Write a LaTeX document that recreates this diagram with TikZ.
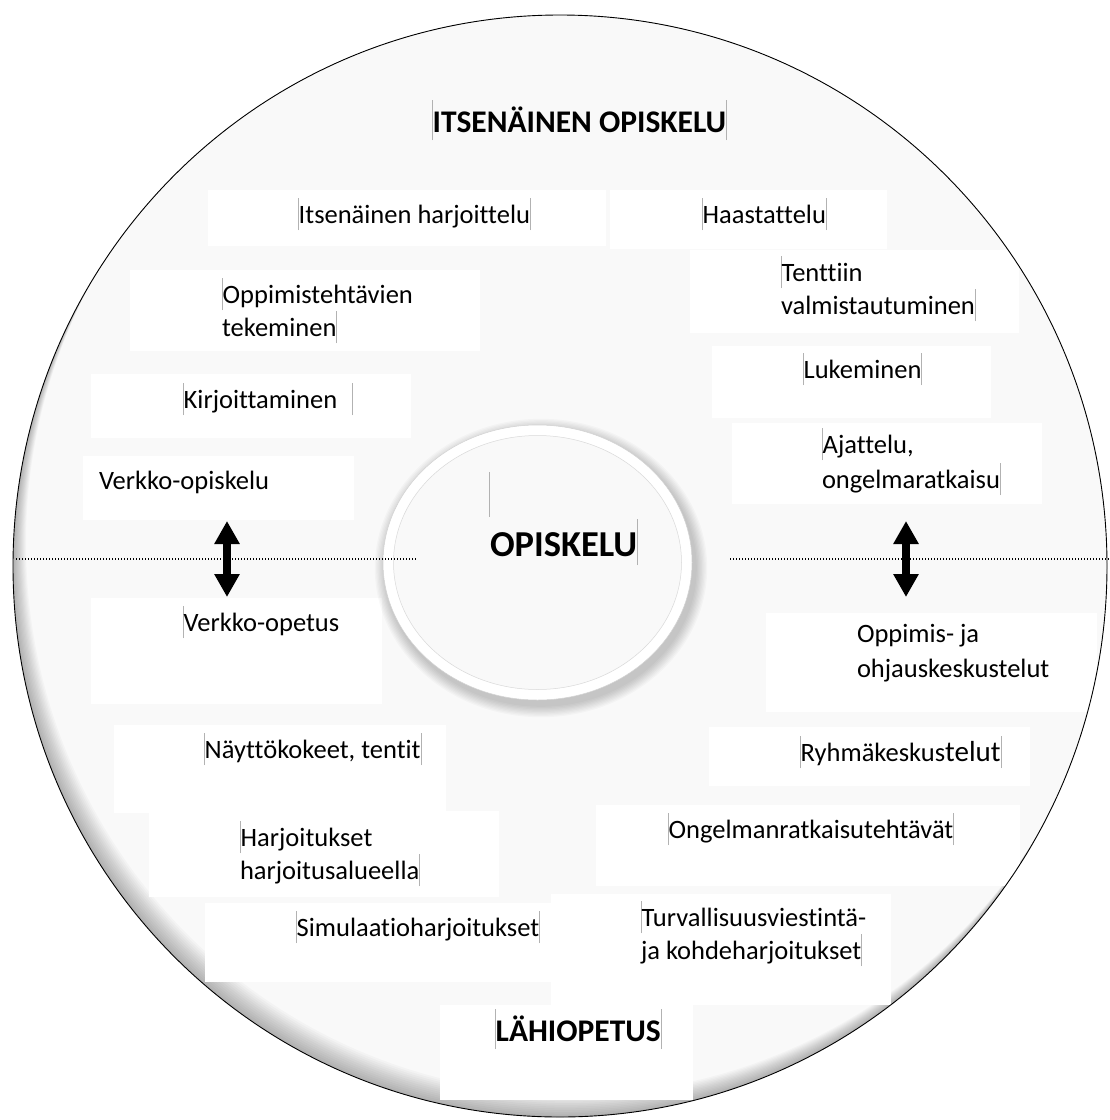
\documentclass[tikz,border=0pt]{standalone}
\usepackage{fontspec}
\setmainfont{Carlito}[Ligatures={NoCommon}]
\usetikzlibrary{arrows.meta}
\definecolor{bgin}{gray}{0.976}
\definecolor{mkgray}{gray}{0.70}
\newcommand\mkr{\textcolor{mkgray}{\rule[-7pt]{0.7pt}{32pt}}}
\newcommand\svv{\rule[-7pt]{0pt}{32pt}}
\newcommand\mkbb{\textcolor{mkgray}{\rule[-8pt]{0.7pt}{40pt}}}
\newcommand\mkcc{\textcolor{mkgray}{\rule[-9pt]{0.7pt}{46pt}}}
\pgfdeclareradialshading{discshade}{\pgfpoint{0bp}{0bp}}{color(0bp)=(bgin); color(47bp)=(bgin); color(49.5bp)=(gray!6); color(50bp)=(gray!12)}
\pgfdeclareradialshading{innershade}{\pgfpoint{0bp}{0bp}}{color(0bp)=(gray!5); color(45bp)=(gray!5); color(48.5bp)=(gray!12); color(50bp)=(gray!24)}
\begin{document}
\begin{tikzpicture}[x=1pt,y=-1pt,
  txt/.style={inner sep=0pt, outer sep=0pt, font=\fontsize{26.5}{33}\selectfont, text=black},
  txtm/.style={txt, align=left},
  hd/.style={inner sep=0pt, outer sep=0pt, font=\bfseries\fontsize{31.5}{38}\selectfont, text=black},
  wbox/.style={fill=white, draw=none},
  dotline/.style={line width=1.1pt, dash pattern=on 1.1pt off 1.9pt},
  dbl/.style={line width=8.5pt, {Triangle[length=23pt,width=24pt]}-{Triangle[length=23pt,width=24pt]}}]
\useasboundingbox (0,0) rectangle (1110,1120);
\fill[white] (0,0) rectangle (1110,1120);
% outer disc
\path[shading=discshade] (560,566) ellipse [x radius=547, y radius=551];
\begin{scope}
\clip (560,566) ellipse [x radius=547, y radius=551];
% rim shadow, heavier at lower left
\foreach \s in {2,4,...,26}
  \fill[black, opacity=0.022, even odd rule] (560,566) ellipse [x radius=547, y radius=551]
     (560+0.5*\s,566-0.866*\s) ellipse [x radius=547, y radius=551];
\fill[wbox] (208,190) rectangle (606,246);
\fill[wbox] (610,190) rectangle (887,249);
\fill[wbox] (130,270) rectangle (480,351);
\fill[wbox] (690,250) rectangle (1019,333);
\fill[wbox] (91,374) rectangle (411,438);
\fill[wbox] (712,346) rectangle (991,418);
\fill[wbox] (83,456) rectangle (354,520);
\fill[wbox] (732,423) rectangle (1042,504);
\fill[wbox] (91,598) rectangle (382,704);
\fill[wbox] (766,613) rectangle (1097,712);
\fill[wbox] (114,725) rectangle (446,813);
\fill[wbox] (709,727) rectangle (1030,786);
\fill[wbox] (149,811) rectangle (499,897);
\fill[wbox] (596,805) rectangle (1020,886);
\fill[wbox] (205,903) rectangle (551,982);
\fill[wbox] (551,894) rectangle (891,1005);
\fill[wbox] (440,1005) rectangle (693,1100);
\end{scope}
\draw[line width=0.9pt] (560,566) ellipse [x radius=547, y radius=551];
% centre ellipse with shadow
\foreach \i in {1,...,9}
  \fill[black, opacity=0.022] (541,568) ellipse [x radius=154.5+\i*1.3, y radius=137.5+\i*1.3];
\fill[white] (537.5,562.5) ellipse [x radius=154.5, y radius=137.5];
\draw[gray!35, line width=0.5pt] (537.5,562.5) ellipse [x radius=154.5, y radius=137.5];
\path[shading=innershade] (537.5,562.5) ellipse [x radius=144, y radius=127];
\draw[gray!30, line width=0.5pt] (537.5,562.5) ellipse [x radius=144, y radius=127];
% dotted divider
\coordinate (dl1) at (16,559);
\coordinate (dl2) at (416,559);
\coordinate (dr1) at (730,559);
\coordinate (dr2) at (1110,559);
\draw[dotline] (dl1) -- (dl2);
\draw[dotline] (dr1) -- (dr2);
% double arrows
\coordinate (al1) at (227,521);
\coordinate (al2) at (227,597);
\coordinate (ar1) at (906,521);
\coordinate (ar2) at (906,597);
\draw[dbl] (al1) -- (al2);
\draw[dbl] (ar1) -- (ar2);
% headings
\node[hd, anchor=base west] (hitse) at (432,132) {\mkbb ITSENÄINEN OPISKELU\mkbb};
\node[hd, anchor=base west] (hlahi) at (495,1041) {\mkbb LÄHIOPETUS\mkbb};
\node[hd, anchor=base west, font=\bfseries\fontsize{36.5}{44}\selectfont] (hopis) at (490,556) {OPISKELU\mkcc};
\draw[mkgray, line width=0.7pt] (489,472) -- (489,517);
% items
\node[txt, anchor=base west] (t1) at (298,223) {\mkr Itsenäinen harjoittelu\mkr};
\node[txt, anchor=base west] (t2) at (702,223) {\mkr Haastattelu\mkr};
\node[txtm, anchor=north west] (t3) at (222,278) {\mkr Oppimistehtävien\\\svv tekeminen\mkr};
\node[txtm, anchor=north west] (t4) at (781,256) {\mkr Tenttiin\\\svv valmistautuminen\mkr};
\node[txt, anchor=base west] (t5) at (183,408) {\mkr Kirjoittaminen\hspace{15pt}\mkr};
\node[txt, anchor=base west] (t6) at (803,378) {\mkr Lukeminen\mkr};
\node[txt, anchor=base west] (t7) at (99,489) {Verkko-opiskelu};
\node[txtm, anchor=north west] (t8) at (822,428) {\mkr Ajattelu,\\[2pt]\svv ongelmaratkaisu\mkr};
\node[txt, anchor=base west] (t9) at (183,631) {\mkr Verkko-opetus};
\node[txtm, anchor=north west] (t10) at (857,617) {\svv Oppimis- ja\\[2pt]\svv ohjauskeskustelut};
\node[txt, anchor=base west] (t11) at (204,758) {\mkr Näyttökokeet, tentit\mkr};
\node[txt, anchor=base west] (t12) at (800,761) {\mkr Ryhmäkeskus{\fontsize{29}{33}\selectfont telut}\mkr};
\node[txtm, anchor=north west] (t13) at (240,821) {\mkr Harjoitukset\\\svv harjoitusalueella\mkr};
\node[txt, anchor=base west] (t14) at (668,838) {\mkr Ongelmanratkaisutehtävät\mkr};
\node[txtm, anchor=north west] (t15) at (641,901) {\mkr Turvallisuusviestintä-\\\svv ja kohdeharjoitukset\mkr};
\node[txt, anchor=base west] (t16) at (296,936) {\mkr Simulaatioharjoitukset\mkr};
\end{tikzpicture}
\end{document}
